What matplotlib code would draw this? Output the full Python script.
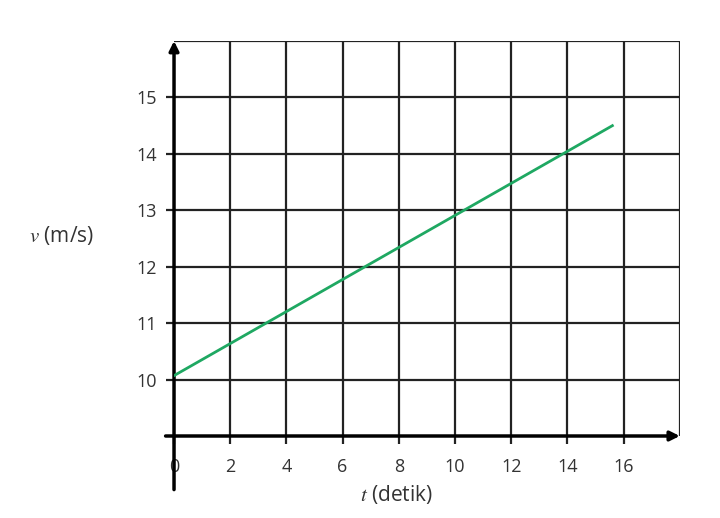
import matplotlib.pyplot as plt
import numpy as np

# data
t_line = [0.0, 15.6]
v_line = [10.07, 14.5]
x_ticks = [0, 2, 4, 6, 8, 10, 12, 14, 16]
y_ticks = [10, 11, 12, 13, 14, 15]
x_grid = [2, 4, 6, 8, 10, 12, 14, 16, 18]
y_grid = [10, 11, 12, 13, 14, 15, 16]

plt.rcParams['font.family'] = ['Open Sans', 'DejaVu Sans']
plt.rcParams['mathtext.fontset'] = 'stix'

fig = plt.figure(figsize=(7.2, 5.18), dpi=100)
ax = fig.add_axes([0.2417, 0.1583, 0.7025, 0.7625])
ax.set_xlim(0, 18)
ax.set_ylim(9, 16)

for s in ax.spines.values():
    s.set_visible(False)

# grid
for x in x_grid:
    ax.plot([x, x], [9, 16], color='#222222', lw=1.6, zorder=1)
for y in y_grid:
    ax.plot([0, 18], [y, y], color='#222222', lw=1.6, zorder=1)

# axes with arrows
ax.annotate('', xy=(0, 16), xytext=(0, 8.05), annotation_clip=False,
            arrowprops=dict(arrowstyle='-|>', color='black', lw=2.5,
                            mutation_scale=14, shrinkA=0, shrinkB=0))
ax.annotate('', xy=(18, 9), xytext=(-0.3, 9), annotation_clip=False,
            arrowprops=dict(arrowstyle='-|>', color='black', lw=2.5,
                            mutation_scale=14, shrinkA=0, shrinkB=0))

ax.plot(t_line, v_line, color='#1fa862', lw=2, zorder=3)

ax.set_xticks(x_ticks)
ax.set_yticks(y_ticks)
ax.tick_params(axis='both', length=6, width=1.6, color='#222222',
               labelsize=13, labelcolor='#333333')
ax.tick_params(axis='x', pad=10)
ax.tick_params(axis='y', pad=6)

fig.text(0.55, 0.045, r'$t$ (detik)', fontsize=15, ha='center', va='center',
         color='#333333')
fig.text(0.085, 0.545, r'$v$ (m/s)', fontsize=15, ha='center', va='center',
         color='#333333')

fig.savefig('out.png', dpi=100)
